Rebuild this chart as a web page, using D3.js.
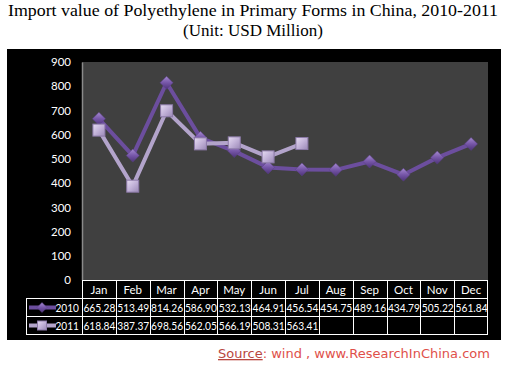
<!DOCTYPE html>
<html><head><meta charset="utf-8">
<script src="https://cdn.jsdelivr.net/npm/d3@7"></script>
<style>body{margin:0;background:#fff;} svg{display:block;}</style>
</head><body>
<script>
const months = ["Jan","Feb","Mar","Apr","May","Jun","Jul","Aug","Sep","Oct","Nov","Dec"];
const values2010 = [665.28,513.49,814.26,586.90,532.13,464.91,456.54,454.75,489.16,434.79,505.22,561.84];
const values2011 = [618.84,387.37,698.56,562.05,566.19,508.31,563.41,null,null,null,null,null];
const seriesNames = ["2010","2011"];
const yTicks = [0,100,200,300,400,500,600,700,800,900];

const W=506,H=366;
const svg=d3.select("body").append("svg").attr("width",W).attr("height",H);
const defs=svg.append("defs");
const g1=defs.append("linearGradient").attr("id","gd").attr("x1",0).attr("y1",0).attr("x2",0).attr("y2",1);
g1.append("stop").attr("offset","0%").attr("stop-color","#a58ad0");
g1.append("stop").attr("offset","50%").attr("stop-color","#7656a8");
g1.append("stop").attr("offset","100%").attr("stop-color","#4e3478");
const g2=defs.append("linearGradient").attr("id","gs").attr("x1",0).attr("y1",0).attr("x2",1).attr("y2",1);
g2.append("stop").attr("offset","0%").attr("stop-color","#e6dcf2");
g2.append("stop").attr("offset","50%").attr("stop-color","#c2b2d8");
g2.append("stop").attr("offset","100%").attr("stop-color","#9a88b6");

// title
const tf="'Liberation Serif','DejaVu Serif',serif";
svg.append("text").attr("x",253).attr("y",16).attr("text-anchor","middle")
  .attr("font-family",tf).attr("font-size",17).attr("fill","#000")
  .attr("textLength",490).attr("lengthAdjust","spacingAndGlyphs")
  .text("Import value of Polyethylene in Primary Forms in China, 2010-2011");
svg.append("text").attr("x",253).attr("y",36).attr("text-anchor","middle")
  .attr("font-family",tf).attr("font-size",17).attr("fill","#000")
  .text("(Unit: USD Million)");

// black background
svg.append("rect").attr("x",7).attr("y",49).attr("width",494).attr("height",291).attr("fill","#000");

const L=82,R=488,T=62,B=280;
svg.append("rect").attr("x",L).attr("y",T).attr("width",R-L).attr("height",B-T).attr("fill","#404040");

const x=d3.scaleBand().domain(months).range([L,R]);
const y=d3.scaleLinear().domain([0,900]).range([B,T]);
const cx=m=>x(m)+x.bandwidth()/2;

const lf="Lato,'Open Sans',sans-serif";
const yAxis=svg.append("g").attr("transform",`translate(${L},0)`)
  .call(d3.axisLeft(y).tickValues(yTicks).tickSize(0).tickPadding(11));
yAxis.select(".domain").attr("stroke","#8a8a8a").attr("stroke-width",1.5);
yAxis.selectAll("text").attr("fill","#fff").attr("font-family",lf).attr("font-size",11.5);

const data=[values2010,values2011];
const lineColors=["#6c4e9e","#b3a4cb"];
const line=d3.line().defined(d=>d.v!=null).x(d=>cx(d.m)).y(d=>y(d.v));
data.forEach((vals,i)=>{
  const pts=months.map((m,j)=>({m,v:vals[j]}));
  svg.append("path").datum(pts).attr("d",line).attr("fill","none")
    .attr("stroke",lineColors[i]).attr("stroke-width",4).attr("stroke-linejoin","round");
});
function diamond(sel,px,py,s){
  sel.append("path").attr("d",`M${px},${py-s}L${px+s},${py}L${px},${py+s}L${px-s},${py}Z`)
    .attr("fill","url(#gd)").attr("stroke","#5a3f88").attr("stroke-width",0.5);
}
function square(sel,px,py,s){
  sel.append("rect").attr("x",px-s).attr("y",py-s).attr("width",2*s).attr("height",2*s)
    .attr("fill","url(#gs)").attr("stroke","#8c7aa8").attr("stroke-width",1);
}
const mk=svg.append("g");
months.forEach((m,j)=>{ if(values2010[j]!=null) diamond(mk,cx(m),y(values2010[j]),6.5); });
months.forEach((m,j)=>{ if(values2011[j]!=null) square(mk,cx(m),y(values2011[j]),6); });

// table
const rowY=[280,298,316,334];
const tg=svg.append("g");
const sc="#fff";
tg.append("line").attr("x1",L).attr("x2",R).attr("y1",rowY[0]+0.5).attr("y2",rowY[0]+0.5).attr("stroke",sc);
[1,2,3].forEach(k=>tg.append("line").attr("x1",26).attr("x2",R).attr("y1",rowY[k]+0.5).attr("y2",rowY[k]+0.5).attr("stroke",sc));
tg.append("line").attr("x1",26.5).attr("x2",26.5).attr("y1",rowY[1]).attr("y2",rowY[3]+1).attr("stroke",sc);
months.forEach(m=>tg.append("line").attr("x1",Math.round(x(m))+0.5).attr("x2",Math.round(x(m))+0.5).attr("y1",rowY[0]).attr("y2",rowY[3]+1).attr("stroke",sc));
tg.append("line").attr("x1",R-0.5).attr("x2",R-0.5).attr("y1",rowY[0]).attr("y2",rowY[3]+1).attr("stroke",sc);
months.forEach(m=>tg.append("text").attr("x",cx(m)).attr("y",rowY[0]+13.5).attr("text-anchor","middle")
  .attr("fill","#fff").attr("font-family",lf).attr("font-size",11.5).text(m));
data.forEach((vals,i)=>{
  const ty=rowY[i+1]+13.5;
  months.forEach((m,j)=>{ if(vals[j]!=null) tg.append("text").attr("x",cx(m)+0.5).attr("y",ty).attr("text-anchor","middle")
    .attr("fill","#fff").attr("font-family",lf).attr("font-size",11.5).attr("textLength",32).attr("lengthAdjust","spacingAndGlyphs")
    .text(vals[j].toFixed(2)); });
  const ly=rowY[i+1]+9.5;
  tg.append("line").attr("x1",29).attr("x2",56).attr("y1",ly).attr("y2",ly).attr("stroke",lineColors[i]).attr("stroke-width",4);
  if(i===0) diamond(tg,42,ly,5); else square(tg,42,ly,4.5);
  tg.append("text").attr("x",55.5).attr("y",ty).attr("fill","#fff").attr("font-family",lf).attr("font-size",12)
    .attr("textLength",23.5).attr("lengthAdjust","spacingAndGlyphs").text(seriesNames[i]);
});

// source
const st=svg.append("text").attr("x",490).attr("y",358).attr("text-anchor","end")
  .attr("font-family","'DejaVu Sans',sans-serif").attr("font-size",13).attr("textLength",272).attr("lengthAdjust","spacingAndGlyphs");
st.append("tspan").attr("fill","#b8473f").attr("text-decoration","underline").text("Source");
st.append("tspan").attr("fill","#e0504a").text(":  wind , www.ResearchInChina.com");
</script>
</body></html>
